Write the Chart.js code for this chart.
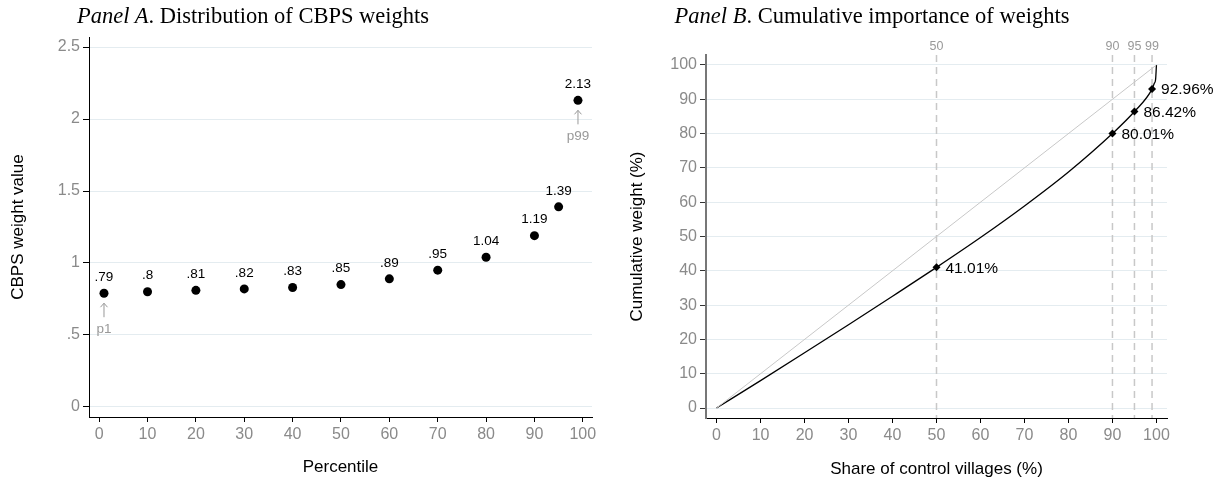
<!DOCTYPE html>
<html>
<head>
<meta charset="utf-8">
<script src="https://cdn.jsdelivr.net/npm/chart.js@4.4.1/dist/chart.umd.min.js"></script>
<style>
  html, body { margin:0; padding:0; background:#fff; }
  #wrap { position:relative; width:1222px; height:485px; }
  .panel { position:absolute; top:0; width:611px; height:485px; }
  .ttl { position:absolute; top:3px; font-family:"Liberation Serif","Times New Roman",serif; font-size:22.5px; color:#000; white-space:nowrap; transform:translateX(-50%); }
</style>
</head>
<body>
<div id="wrap">
  <div class="panel" style="left:0"><canvas id="chartA" width="611" height="485"></canvas></div>
  <div class="panel" style="left:611px"><canvas id="chartB" width="611" height="485"></canvas></div>
  <div class="ttl" style="left:253px"><i>Panel A</i>. Distribution of CBPS weights</div>
  <div class="ttl" style="left:872px"><i>Panel B</i>. Cumulative importance of weights</div>
</div>
<script>
// panel A data: weight at selected percentiles
const pctA = [1, 10, 20, 30, 40, 50, 60, 70, 80, 90, 95, 99];
const weightsA = [0.79, 0.80, 0.81, 0.82, 0.83, 0.85, 0.89, 0.95, 1.04, 1.19, 1.39, 2.13];
const xTicksA = [0, 10, 20, 30, 40, 50, 60, 70, 80, 90, 100];
const yTicksA = [0, 0.5, 1, 1.5, 2, 2.5];
const tagIdxA = [0, 11];
const tagTextA = ['p1', 'p99'];

// panel B data: cumulative weight curve
const shareB = [0, 10, 20, 30, 40, 50, 60, 70, 80, 90, 95, 99, 99.5, 99.8, 100];
const cumB = [0, 8.0, 16.1, 24.3, 32.6, 41.01, 49.7, 58.9, 68.8, 80.01, 86.42, 92.96, 94.6, 95.7, 100];
const markX = [50, 90, 95, 99];
const markY = [41.01, 80.01, 86.42, 92.96];
const diagX = [0, 100];
const diagY = [0, 100];
const refLines = [50, 90, 95, 99];
const xTicksB = [0, 10, 20, 30, 40, 50, 60, 70, 80, 90, 100];
const yTicksB = [0, 10, 20, 30, 40, 50, 60, 70, 80, 90, 100];

const SANS = '"Liberation Sans", Arial, Helvetica, sans-serif';
const GRID = '#e4ecf0';
const TICKCOL = '#8a8a8a';

// stata style: drop leading zero
const fmtA = v => String(v).replace(/^0\./, '.');
const pts = (xs, ys) => xs.map((x, i) => ({x: x, y: ys[i]}));
const fixTicks = arr => (scale) => { scale.ticks = arr.map(v => ({value: v})); };

const labelsA = {
  id: 'labelsA',
  afterDatasetsDraw(chart) {
    const ctx = chart.ctx;
    const meta = chart.getDatasetMeta(0);
    ctx.save();
    ctx.textAlign = 'center';
    ctx.textBaseline = 'middle';
    ctx.font = '13.5px ' + SANS;
    ctx.fillStyle = '#000';
    meta.data.forEach((p, i) => ctx.fillText(fmtA(weightsA[i]), p.x, p.y - 16));
    // p1 / p99 arrows
    ctx.strokeStyle = '#999';
    ctx.fillStyle = '#999';
    ctx.lineWidth = 1;
    tagIdxA.forEach((idx, k) => {
      const p = meta.data[idx];
      ctx.beginPath();
      ctx.moveTo(p.x, p.y + 10); ctx.lineTo(p.x, p.y + 24);
      ctx.moveTo(p.x - 3.5, p.y + 14); ctx.lineTo(p.x, p.y + 10); ctx.lineTo(p.x + 3.5, p.y + 14);
      ctx.stroke();
      ctx.fillText(tagTextA[k], p.x, p.y + 36);
    });
    ctx.restore();
  }
};

new Chart(document.getElementById('chartA'), {
  type: 'scatter',
  data: {
    datasets: [{
      data: pts(pctA, weightsA),
      backgroundColor: '#000',
      borderWidth: 0,
      pointRadius: 4.5
    }]
  },
  options: {
    responsive: false,
    animation: false,
    layout: {padding: {top: 37, right: 19, left: 0, bottom: 0}},
    plugins: {legend: {display: false}, tooltip: {enabled: false}},
    scales: {
      x: {
        type: 'linear', min: -2.1, max: 101.9,
        afterBuildTicks: fixTicks(xTicksA),
        afterFit: s => { s.height = 68; },
        border: {color: '#000', width: 1},
        grid: {drawOnChartArea: false, tickLength: 5, tickColor: '#000'},
        ticks: {color: TICKCOL, font: {family: SANS, size: 16}, padding: 3, maxRotation: 0},
        title: {display: true, text: 'Percentile', color: '#000', font: {family: SANS, size: 17}, padding: {top: 0, bottom: 7}}
      },
      y: {
        type: 'linear', min: -0.07, max: 2.57,
        afterBuildTicks: fixTicks(yTicksA),
        afterFit: s => { s.width = 89; },
        border: {color: '#000', width: 1},
        grid: {color: GRID, tickLength: 6, tickColor: '#000'},
        ticks: {color: TICKCOL, font: {family: SANS, size: 16}, padding: 3, callback: v => fmtA(v)},
        title: {display: true, text: 'CBPS weight value', color: '#000', font: {family: SANS, size: 17}, padding: {top: 8, bottom: 0}}
      }
    }
  },
  plugins: [labelsA]
});

const refPlugin = {
  id: 'refLines',
  beforeDatasetsDraw(chart) {
    const ctx = chart.ctx, xs = chart.scales.x, area = chart.chartArea;
    ctx.save();
    ctx.strokeStyle = '#c8c8c8';
    ctx.lineWidth = 1.5;
    ctx.setLineDash([7, 5]);
    ctx.fillStyle = '#999';
    ctx.font = '12.5px ' + SANS;
    ctx.textAlign = 'center';
    ctx.textBaseline = 'middle';
    refLines.forEach(v => {
      const x = xs.getPixelForValue(v);
      ctx.beginPath();
      ctx.moveTo(x, area.top); ctx.lineTo(x, area.bottom);
      ctx.stroke();
      ctx.fillText(String(v), x, area.top - 8);
    });
    ctx.restore();
  },
  afterDatasetsDraw(chart) {
    const ctx = chart.ctx;
    const meta = chart.getDatasetMeta(2);
    ctx.save();
    ctx.font = '15.5px ' + SANS;
    ctx.fillStyle = '#000';
    ctx.textAlign = 'left';
    ctx.textBaseline = 'middle';
    meta.data.forEach((p, i) => ctx.fillText(markY[i].toFixed(2) + '%', p.x + 9, p.y + 1));
    ctx.restore();
  }
};

new Chart(document.getElementById('chartB'), {
  type: 'scatter',
  data: {
    datasets: [
      {data: pts(diagX, diagY), showLine: true, borderColor: '#c8c8c8', borderWidth: 1, pointRadius: 0},
      {data: pts(shareB, cumB), showLine: true, borderColor: '#000', borderWidth: 1.3, pointRadius: 0, cubicInterpolationMode: 'monotone'},
      {data: pts(markX, markY), pointStyle: 'rectRot', pointRadius: 4, backgroundColor: '#000', borderWidth: 0}
    ]
  },
  options: {
    responsive: false,
    animation: false,
    layout: {padding: {top: 55, right: 55, left: 0, bottom: 0}},
    plugins: {legend: {display: false}, tooltip: {enabled: false}},
    scales: {
      x: {
        type: 'linear', min: -2.4, max: 102.4,
        afterBuildTicks: fixTicks(xTicksB),
        afterFit: s => { s.height = 67; },
        border: {color: '#000', width: 1},
        grid: {drawOnChartArea: false, tickLength: 5, tickColor: '#000'},
        ticks: {color: TICKCOL, font: {family: SANS, size: 16}, padding: 3, maxRotation: 0},
        title: {display: true, text: 'Share of control villages (%)', color: '#000', font: {family: SANS, size: 17}, padding: {top: 0, bottom: 5}}
      },
      y: {
        type: 'linear', min: -2.9, max: 102.9,
        afterBuildTicks: fixTicks(yTicksB),
        afterFit: s => { s.width = 95; },
        border: {color: '#777', width: 2},
        grid: {color: GRID, tickLength: 6, tickColor: '#333'},
        ticks: {color: TICKCOL, font: {family: SANS, size: 16}, padding: 3},
        title: {display: true, text: 'Cumulative weight (%)', color: '#000', font: {family: SANS, size: 17}, padding: {top: 16, bottom: 0}}
      }
    }
  },
  plugins: [refPlugin]
});
</script>
</body>
</html>
